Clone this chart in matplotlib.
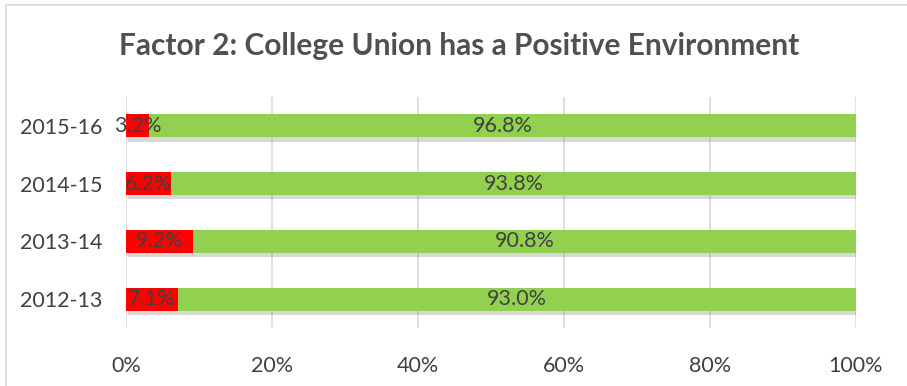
import matplotlib.pyplot as plt
import matplotlib.patheffects as pe
from matplotlib.patches import Rectangle
from matplotlib.ticker import PercentFormatter

# Survey results by academic year
years = ['2012-13', '2013-14', '2014-15', '2015-16']
disagree = [7.1, 9.2, 6.2, 3.2]
agree = [93.0, 90.8, 93.8, 96.8]

red = '#FF0000'
green = '#92D050'
text_color = '#404040'
font = 'Lato'

plt.rcParams['font.family'] = [font, 'DejaVu Sans']

fig = plt.figure(figsize=(9.07, 3.86), dpi=100)
ax = fig.add_axes([0.1389, 0.1503, 0.8049, 0.5984])

# light chart border
fig.patches.append(Rectangle((6 / 907, -0.05), 1.2, 1 - 5 / 386 + 0.05,
                             transform=fig.transFigure, fill=False,
                             edgecolor='#d9d9d9', linewidth=1.2))

shadow = [pe.SimplePatchShadow(offset=(1.5, -3), shadow_rgbFace='#808080', alpha=0.3),
          pe.Normal()]

y = list(range(len(years)))
bars_r = ax.barh(y, disagree, height=0.4, color=red, zorder=3)
bars_g = ax.barh(y, agree, left=disagree, height=0.4, color=green, zorder=3)
for b in list(bars_r) + list(bars_g):
    b.set_path_effects(shadow)

for i in y:
    ax.text(disagree[i] / 2, i, f'{disagree[i]:.1f}%', ha='center', va='center',
            fontsize=15.5, color=text_color, zorder=5)
    ax.text(disagree[i] + agree[i] / 2, i, f'{agree[i]:.1f}%', ha='center', va='center',
            fontsize=15.5, color=text_color, zorder=5)

ax.set_xlim(0, 100)
ax.set_ylim(-0.5, 3.5)
ax.set_xticks([0, 20, 40, 60, 80, 100])
ax.xaxis.set_major_formatter(PercentFormatter(decimals=0))
ax.set_yticks(y)
ax.set_yticklabels(years)
ax.tick_params(axis='both', length=0, labelsize=15.5, labelcolor=text_color)
ax.tick_params(axis='x', pad=20)
ax.tick_params(axis='y', pad=17)
ax.grid(axis='x', color='#d9d9d9', linewidth=1.2, zorder=0)
ax.set_axisbelow(True)
for s in ax.spines.values():
    s.set_visible(False)

fig.text(0.506, 0.88, 'Factor 2: College Union has a Positive Environment',
         ha='center', va='center', fontsize=21.5, fontweight='bold', color='#505050')

fig.savefig('out.png', dpi=100)
